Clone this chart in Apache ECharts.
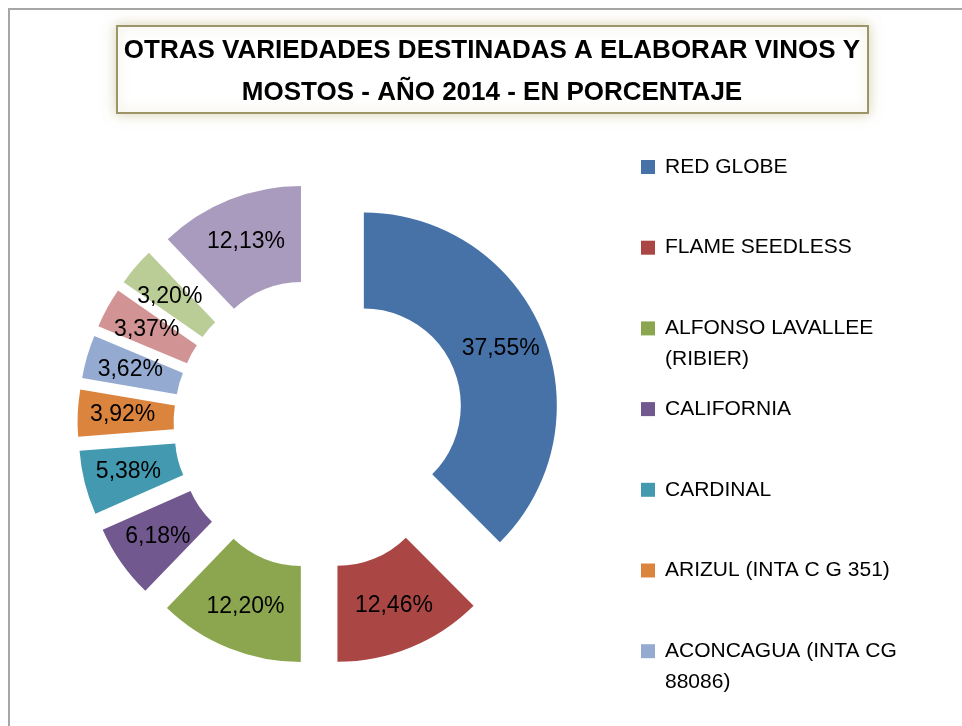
<!DOCTYPE html>
<html>
<head>
<meta charset="utf-8">
<script src="https://cdn.jsdelivr.net/npm/echarts@6/dist/echarts.min.js"></script>
<style>
html,body{margin:0;padding:0;background:#ffffff;}
#chart{width:962px;height:726px;}
</style>
</head>
<body>
<div id="chart"></div>
<script>
const titleText = 'OTRAS VARIEDADES DESTINADAS A ELABORAR VINOS Y\nMOSTOS - AÑO 2014 - EN PORCENTAJE';
const categories = [
  'RED GLOBE',
  'FLAME SEEDLESS',
  'ALFONSO LAVALLEE (RIBIER)',
  'CALIFORNIA',
  'CARDINAL',
  'ARIZUL (INTA C G 351)',
  'ACONCAGUA (INTA CG 88086)',
  'SUPERIOR SEEDLESS',
  'ITALIA',
  'OTRAS'
];
const values = [37.55, 12.46, 12.20, 6.18, 5.38, 3.92, 3.62, 3.37, 3.20, 12.13];
const colors = ['#4672A8', '#AA4744', '#8BA64F', '#71598F', '#4299B0', '#DB843E', '#94AAD0', '#D19393', '#BACD97', '#A99BBE'];
const visibleLegendCount = 7;

const FONT = '"Liberation Sans", Arial, sans-serif';
const measureCtx = document.createElement('canvas').getContext('2d');
measureCtx.font = '21px ' + FONT;
function wrapLegend(name) {
  const words = name.split(' ');
  const lines = [];
  let cur = '';
  words.forEach(w => {
    const t = cur ? cur + ' ' + w : w;
    if (cur && measureCtx.measureText(t).width > 250) { lines.push(cur); cur = w; }
    else cur = t;
  });
  lines.push(cur);
  return '\n' + lines[0] + '\n' + (lines[1] || '');
}

const chart = echarts.init(document.getElementById('chart'), null, {renderer: 'canvas'});

const legends = categories.slice(0, visibleLegendCount).map((name, i) => ({
  data: [name],
  left: 641,
  top: 120.5 + i * 80.7,
  padding: 0,
  orient: 'vertical',
  icon: 'rect',
  itemWidth: 14,
  itemHeight: 14,
  itemGap: 0,
  selectedMode: false,
  formatter: wrapLegend,
  textStyle: {fontSize: 21, fontFamily: FONT, color: '#000', lineHeight: 31, padding: [0, 0, 0, 5]}
}));

chart.setOption({
  animation: false,
  backgroundColor: '#ffffff',
  graphic: [
    {type: 'rect', z: -10, shape: {x: 9, y: 9, width: 1200, height: 1200}, style: {fill: '#ffffff', stroke: '#a6a6a6', lineWidth: 2}},
    {type: 'rect', z: 0, shape: {x: 117, y: 26, width: 751, height: 87},
      style: {fill: '#ffffff', stroke: '#9d9568', lineWidth: 2, shadowBlur: 12, shadowColor: 'rgba(190,180,130,0.55)'}},
    {type: 'text', z: 1, x: 492, y: 72,
      style: {text: titleText, align: 'center', verticalAlign: 'middle', fill: '#000',
        font: 'bold 26px ' + FONT, lineHeight: 42}}
  ],
  legend: legends,
  series: [{
    type: 'pie',
    center: [319, 424],
    radius: [97, 193],
    startAngle: 90,
    clockwise: true,
    selectedMode: 'multiple',
    selectedOffset: 48.5,
    avoidLabelOverlap: false,
    label: {
      show: true,
      position: 'inside',
      color: '#000',
      fontSize: 23,
      fontFamily: FONT,
      formatter: p => p.value.toFixed(2).replace('.', ',') + '%'
    },
    labelLine: {show: false},
    emphasis: {disabled: true},
    data: categories.map((name, i) => ({
      name: name,
      value: values[i],
      selected: true,
      itemStyle: {color: colors[i]},
      select: {itemStyle: {color: colors[i], borderWidth: 0}}
    }))
  }]
});
</script>
</body>
</html>
